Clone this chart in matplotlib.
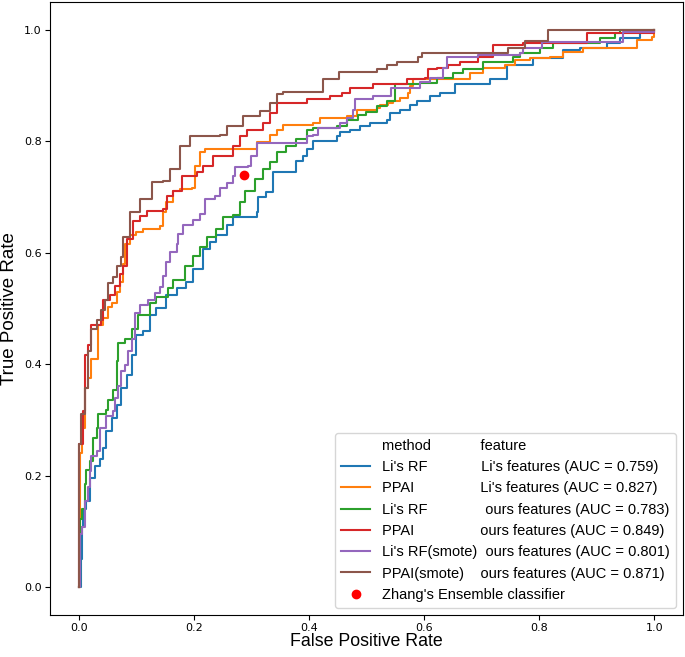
import matplotlib.pyplot as plt
from matplotlib.lines import Line2D
from matplotlib.font_manager import FontProperties

# ROC corner points (fpr, tpr)
li_rf_li_fpr = [0, 0.004, 0.005, 0.0075, 0.013, 0.019, 0.028, 0.037, 0.042, 0.048, 0.057, 0.066, 0.074, 0.083,
                0.092, 0.100, 0.112, 0.123, 0.135, 0.152, 0.170, 0.187, 0.199, 0.216, 0.228, 0.239, 0.257, 0.268,
                0.309, 0.311, 0.326, 0.338, 0.378, 0.390, 0.396, 0.407, 0.448, 0.454, 0.471, 0.489, 0.506, 0.535,
                0.541, 0.558, 0.576, 0.587, 0.610, 0.628, 0.654, 0.715, 0.744, 0.790, 0.842, 0.871, 0.918, 0.941,
                0.976, 1.0]
li_rf_li_tpr = [0, 0.05, 0.107, 0.14, 0.155, 0.196, 0.217, 0.229, 0.25, 0.28, 0.304, 0.327, 0.357, 0.381,
                0.417, 0.452, 0.459, 0.488, 0.5, 0.524, 0.536, 0.548, 0.571, 0.607, 0.619, 0.631, 0.649, 0.664,
                0.673, 0.70, 0.709, 0.744, 0.765, 0.774, 0.786, 0.80, 0.810, 0.816, 0.821, 0.827, 0.833, 0.839,
                0.851, 0.857, 0.866, 0.872, 0.881, 0.887, 0.902, 0.911, 0.937, 0.95, 0.964, 0.967, 0.976, 0.985,
                0.997, 1.0]

ppai_li_fpr = [0, 0.002, 0.005, 0.010, 0.016, 0.022, 0.034, 0.042, 0.051, 0.057, 0.066, 0.071, 0.077, 0.080,
               0.089, 0.100, 0.112, 0.141, 0.146, 0.152, 0.164, 0.176, 0.196, 0.202, 0.210, 0.219, 0.309, 0.332,
               0.344, 0.355, 0.407, 0.419, 0.466, 0.483, 0.518, 0.523, 0.537, 0.546, 0.558, 0.572, 0.576, 0.580,
               0.680, 0.703, 0.741, 0.758, 0.784, 0.819, 0.842, 0.877, 0.970, 0.996, 1.0]
ppai_li_tpr = [0, 0.24, 0.286, 0.357, 0.375, 0.41, 0.470, 0.482, 0.503, 0.509, 0.530, 0.548, 0.580, 0.616,
               0.631, 0.637, 0.643, 0.648, 0.673, 0.691, 0.711, 0.714, 0.717, 0.756, 0.780, 0.786, 0.798, 0.812,
               0.821, 0.829, 0.833, 0.842, 0.845, 0.857, 0.860, 0.866, 0.869, 0.872, 0.878, 0.887, 0.899, 0.911,
               0.923, 0.932, 0.937, 0.946, 0.950, 0.952, 0.961, 0.967, 0.982, 0.988, 1.0]

li_rf_ours_fpr = [0, 0.002, 0.005, 0.010, 0.013, 0.019, 0.025, 0.031, 0.034, 0.048, 0.051, 0.060, 0.066, 0.068,
                  0.080, 0.092, 0.103, 0.123, 0.135, 0.155, 0.164, 0.184, 0.199, 0.210, 0.222, 0.239, 0.251, 0.268,
                  0.280, 0.289, 0.306, 0.320, 0.332, 0.344, 0.361, 0.378, 0.396, 0.407, 0.448, 0.466, 0.486, 0.500,
                  0.518, 0.535, 0.550, 0.593, 0.622, 0.651, 0.668, 0.703, 0.755, 0.767, 0.802, 0.824, 0.906, 0.932,
                  0.941, 1.0]
li_rf_ours_tpr = [0, 0.122, 0.140, 0.185, 0.211, 0.226, 0.268, 0.286, 0.31, 0.318, 0.336, 0.354, 0.405, 0.4375,
                  0.446, 0.464, 0.488, 0.509, 0.521, 0.536, 0.551, 0.577, 0.595, 0.611, 0.628, 0.643, 0.664, 0.667,
                  0.691, 0.711, 0.732, 0.75, 0.762, 0.780, 0.792, 0.804, 0.821, 0.824, 0.827, 0.839, 0.848, 0.853,
                  0.863, 0.872, 0.902, 0.905, 0.914, 0.923, 0.929, 0.943, 0.952, 0.959, 0.967, 0.977, 0.985, 0.994,
                  1.0, 1.0]

ppai_ours_fpr = [0, 0, 0.0075, 0.010, 0.016, 0.022, 0.039, 0.042, 0.054, 0.063, 0.071, 0.077, 0.083, 0.094,
                 0.106, 0.118, 0.146, 0.153, 0.163, 0.179, 0.205, 0.216, 0.233, 0.268, 0.280, 0.292, 0.320, 0.332,
                 0.344, 0.396, 0.437, 0.457, 0.471, 0.511, 0.570, 0.602, 0.607, 0.622, 0.642, 0.663, 0.694, 0.720,
                 0.772, 0.883, 1.0]
ppai_ours_tpr = [0, 0.256, 0.316, 0.417, 0.434, 0.470, 0.479, 0.515, 0.524, 0.541, 0.5625, 0.577, 0.625, 0.657,
                 0.666, 0.675, 0.678, 0.702, 0.711, 0.738, 0.745, 0.756, 0.774, 0.792, 0.809, 0.821, 0.833, 0.851,
                 0.868, 0.875, 0.881, 0.887, 0.896, 0.902, 0.911, 0.914, 0.929, 0.932, 0.937, 0.943, 0.952, 0.973,
                 0.976, 0.994, 1.0]

li_rf_smote_fpr = [0, 0.002, 0.005, 0.010, 0.016, 0.019, 0.022, 0.031, 0.037, 0.048, 0.060, 0.063, 0.068, 0.074,
                   0.080, 0.086, 0.092, 0.097, 0.106, 0.120, 0.132, 0.141, 0.146, 0.152, 0.158, 0.170, 0.173, 0.181,
                   0.199, 0.210, 0.219, 0.237, 0.245, 0.257, 0.268, 0.271, 0.294, 0.300, 0.309, 0.396, 0.407, 0.416,
                   0.454, 0.466, 0.477, 0.480, 0.511, 0.543, 0.593, 0.610, 0.633, 0.640, 0.694, 0.767, 0.772, 0.805,
                   0.946, 1.0]
li_rf_smote_tpr = [0, 0.095, 0.107, 0.155, 0.179, 0.208, 0.235, 0.244, 0.286, 0.307, 0.316, 0.339, 0.36, 0.387,
                   0.399, 0.423, 0.446, 0.491, 0.506, 0.515, 0.527, 0.539, 0.559, 0.583, 0.601, 0.616, 0.634, 0.649,
                   0.658, 0.670, 0.696, 0.702, 0.717, 0.726, 0.738, 0.753, 0.756, 0.774, 0.797, 0.81, 0.812, 0.824,
                   0.833, 0.842, 0.857, 0.875, 0.881, 0.896, 0.907, 0.914, 0.932, 0.952, 0.955, 0.959, 0.967, 0.979,
                   0.997, 1.0]

ppai_smote_fpr = [0, 0, 0.004, 0.010, 0.016, 0.022, 0.031, 0.039, 0.045, 0.051, 0.060, 0.066, 0.074, 0.077,
                  0.089, 0.106, 0.127, 0.146, 0.158, 0.176, 0.193, 0.245, 0.257, 0.285, 0.315, 0.332, 0.344, 0.355,
                  0.424, 0.452, 0.518, 0.535, 0.553, 0.590, 0.596, 0.746, 0.776, 0.816, 1.0]
ppai_smote_tpr = [0, 0.256, 0.31, 0.357, 0.423, 0.464, 0.479, 0.497, 0.515, 0.545, 0.557, 0.577, 0.593, 0.629,
                  0.673, 0.696, 0.727, 0.729, 0.75, 0.791, 0.809, 0.811, 0.827, 0.845, 0.854, 0.869, 0.884, 0.888,
                  0.911, 0.925, 0.929, 0.937, 0.943, 0.952, 0.959, 0.967, 0.98, 1.0, 1.0]

zhang_fpr = [0.287]
zhang_tpr = [0.739]

# legend text: method column and feature column
header = ("method", "feature")
methods = ["Li's RF", "PPAI", "Li's RF", "PPAI", "Li's RF(smote)", "PPAI(smote)"]
features = [
    "Li's features (AUC = 0.759)",
    "Li's features (AUC = 0.827)",
    "ours features (AUC = 0.783)",
    "ours features (AUC = 0.849)",
    "ours features (AUC = 0.801)",
    "ours features (AUC = 0.871)",
]
zhang_label = "Zhang's Ensemble classifier"

# where the feature column starts (pixels after the method text start), header first
feature_offsets = [98, 98, 100, 103, 99, 103, 100]


def text_width(fig, renderer, s, prop):
    t = fig.text(0, 0, s, fontproperties=prop)
    w = t.get_window_extent(renderer=renderer).width
    t.remove()
    return w


# Pad the method text with spaces so the feature text starts near the wanted offset
def padded(fig, renderer, left, right, offset, prop):
    base = text_width(fig, renderer, "x", prop)
    best_n, best_err = 1, 1e9
    for n in range(1, 40):
        start = text_width(fig, renderer, left + " " * n + "x", prop) - base
        err = abs(start - offset)
        if err < best_err:
            best_n, best_err = n, err
    return left + " " * best_n + right


def plot_roc():
    fig = plt.figure(figsize=(6.85, 6.57), dpi=100)
    ax = fig.add_axes([0.073, 0.064, 0.924, 0.933])
    renderer = fig.canvas.get_renderer()
    prop = FontProperties(family="Liberation Sans", size=10.5)

    curves = [
        (li_rf_li_fpr, li_rf_li_tpr),
        (ppai_li_fpr, ppai_li_tpr),
        (li_rf_ours_fpr, li_rf_ours_tpr),
        (ppai_ours_fpr, ppai_ours_tpr),
        (li_rf_smote_fpr, li_rf_smote_tpr),
        (ppai_smote_fpr, ppai_smote_tpr),
    ]

    # blank handle for the header row
    header_label = padded(fig, renderer, header[0], header[1], feature_offsets[0], prop)
    ax.add_line(Line2D([], [], linestyle="none", label=header_label))
    for i, (fpr, tpr) in enumerate(curves):
        label = padded(fig, renderer, methods[i], features[i], feature_offsets[i + 1], prop)
        ax.plot(fpr, tpr, drawstyle="steps-post", color=f"C{i}", lw=1.5, label=label)

    ax.plot(zhang_fpr, zhang_tpr, "o", color="red", markersize=6, label=zhang_label)

    ax.set_xlim(-0.05, 1.05)
    ax.set_ylim(-0.05, 1.05)
    ax.set_xticks([0.0, 0.2, 0.4, 0.6, 0.8, 1.0])
    ax.set_yticks([0.0, 0.2, 0.4, 0.6, 0.8, 1.0])
    ax.tick_params(labelsize=8, pad=2.5)

    ax.set_xlabel("False Positive Rate", fontsize=12.8, family="Liberation Sans", labelpad=0)
    ax.set_ylabel("True Positive Rate", fontsize=13.5, family="Liberation Sans", labelpad=4)

    ax.legend(loc="lower right", prop=prop)

    fig.savefig("out.png", dpi=100)


def main():
    plot_roc()


if __name__ == "__main__":
    main()
